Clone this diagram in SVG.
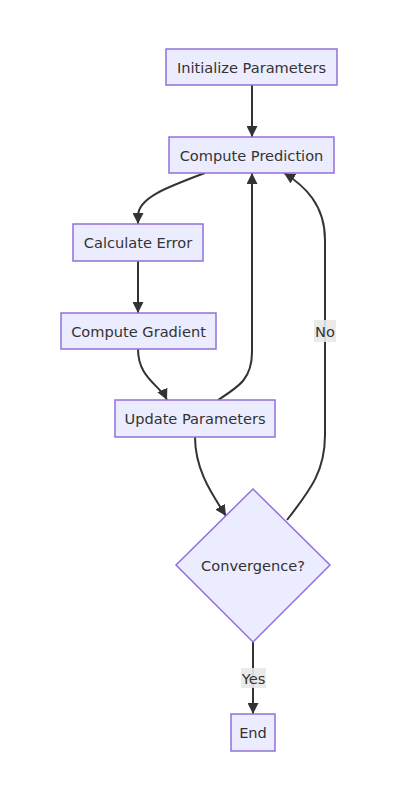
<svg xmlns="http://www.w3.org/2000/svg" width="400" height="800" viewBox="0 0 400 800">
<defs>
<marker id="arrow" viewBox="0 0 10 10" refX="10" refY="5" markerUnits="userSpaceOnUse" markerWidth="11" markerHeight="11" orient="auto">
<path d="M0,0 L10,5 L0,10 z" fill="#333333"/>
</marker>
<style>
.node rect, .node polygon { fill: #ECECFF; stroke: #9370DB; stroke-width: 1.5; }
.node text { font-family: "DejaVu Sans", Verdana, sans-serif; font-size: 14.6px; fill: #333333; text-anchor: middle; dominant-baseline: central; }
.edge { fill: none; stroke: #333333; stroke-width: 2; marker-end: url(#arrow); }
.lbl rect { fill: #e8e8e8; opacity: 0.9; }
.lbl text { font-family: "DejaVu Sans", Verdana, sans-serif; font-size: 14.6px; fill: #333333; text-anchor: middle; dominant-baseline: central; }
</style>
</defs>
<rect width="400" height="800" fill="#ffffff"/>
<g id="connectors">
<path class="edge" d="M252,85 L252,137"/>
<path class="edge" d="M205,173 C165,188 138,198 138,216 L138,224"/>
<path class="edge" d="M138,261 L138,313"/>
<path class="edge" d="M138,349 C138,378 160,385 167,400"/>
<path class="edge" d="M218,400 C240,386 252,378 252,352 L252,173"/>
<path class="edge" d="M195,437 C195,470 212,494 226,516"/>
<path class="edge" d="M287,520 C312,488 325,470 325,435 L325,240 C325,205 305,186 284,173"/>
<path class="edge" d="M253,642 L253,714"/>
</g>
<g id="edge-labels">
<g class="lbl" id="label-no"><rect x="314" y="320" width="22" height="22"/><text x="325" y="331">No</text></g>
<g class="lbl" id="label-yes"><rect x="241" y="668" width="25" height="20"/><text x="253.5" y="678">Yes</text></g>
</g>
<g class="node" id="init"><rect x="166" y="49" width="171" height="36"/><text x="251.5" y="67">Initialize Parameters</text></g>
<g class="node" id="predict"><rect x="169" y="137" width="165" height="36"/><text x="251.5" y="155">Compute Prediction</text></g>
<g class="node" id="error"><rect x="73" y="224" width="130" height="37"/><text x="138" y="242.5">Calculate Error</text></g>
<g class="node" id="gradient"><rect x="61" y="313" width="155" height="36"/><text x="138.5" y="331">Compute Gradient</text></g>
<g class="node" id="update"><rect x="115" y="400" width="160" height="37"/><text x="195" y="418.5">Update Parameters</text></g>
<g class="node" id="converge"><polygon points="253,489 330,565 253,642 176,565"/><text x="253" y="565">Convergence?</text></g>
<g class="node" id="end"><rect x="231" y="714" width="44" height="37"/><text x="253" y="732.5">End</text></g>
</svg>
